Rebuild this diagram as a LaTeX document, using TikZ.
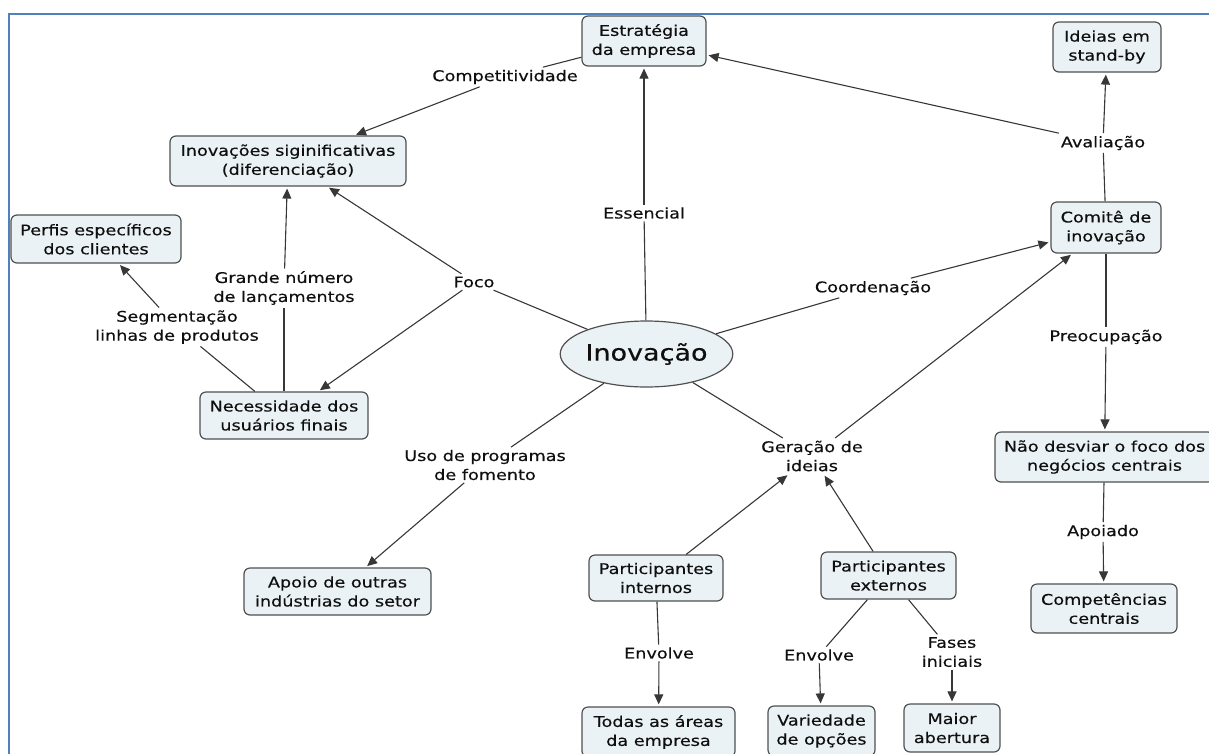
\documentclass[tikz,border=0pt]{standalone}
\usepackage{fontspec}
\setmainfont{DejaVu Sans}[FakeStretch=1.2,FakeBold=0.35]
\usetikzlibrary{arrows.meta,shapes.geometric}
\definecolor{framecol}{RGB}{79,129,189}
\definecolor{boxfill}{RGB}{234,242,246}
\definecolor{boxline}{RGB}{80,80,80}
\definecolor{linkcol}{RGB}{55,55,55}
\definecolor{txt}{RGB}{15,15,15}

\begin{document}
\begin{tikzpicture}[x=1pt,y=-1pt,
  concept/.style={draw=boxline, line width=1.2pt, fill=boxfill, rounded corners=6pt,
    align=center, inner sep=0pt, text=txt, font=\fontsize{14.7}{19}\selectfont},
  lbl/.style={align=center, inner sep=2.5pt, text=txt, font=\fontsize{14.7}{19}\selectfont},
  link/.style={draw=linkcol, line width=1.1pt},
  arr/.style={link, -{Triangle[length=10pt,width=9pt]}, shorten >=2pt},
]
\useasboundingbox (0,0) rectangle (1209,753);
\clip (0,0) rectangle (1209,753);

% frame
\draw[framecol, line width=2pt] (1212,14) -- (8.5,14) -- (8.5,756);

% concepts
\node[ellipse, draw=boxline, fill=boxfill, line width=1.2pt, minimum width=153pt,
  minimum height=66pt, inner sep=0pt, text=txt, font=\fontsize{22.5}{27}\selectfont]
  (core) at (646.5,354) {Inovação};
\node[concept, minimum width=124pt, minimum height=50pt] (estr) at (644,41) {Estratégia\\da empresa};
\node[concept, minimum width=236pt, minimum height=50pt] (inov) at (288,161) {Inovações siginificativas\\(diferenciação)};
\node[concept, minimum width=170pt, minimum height=48pt] (perf) at (96,239) {Perfis específicos\\dos clientes};
\node[concept, minimum width=168pt, minimum height=47pt] (nec) at (284,415.5) {Necessidade dos\\usuários finais};
\node[concept, minimum width=108pt, minimum height=50pt] (ideias) at (1107,47) {Ideias em\\stand-by};
\node[concept, minimum width=110pt, minimum height=51pt] (comite) at (1106,227.5) {Comitê de\\inovação};
\node[concept, minimum width=219pt, minimum height=50pt] (naodesv) at (1104.5,457) {Não desviar o foco dos\\negócios centrais};
\node[concept, minimum width=146pt, minimum height=49pt] (comp) at (1104,608.5) {Competências\\centrais};
\node[concept, minimum width=187pt, minimum height=47pt] (apoio) at (337.5,591.5) {Apoio de outras\\indústrias do setor};
\node[concept, minimum width=134pt, minimum height=46pt] (pint) at (656,578) {Participantes\\internos};
\node[concept, minimum width=135pt, minimum height=47pt] (pext) at (888.5,575.5) {Participantes\\externos};
\node[concept, minimum width=153pt, minimum height=50pt] (todas) at (658.5,732) {Todas as áreas\\da empresa};
\node[concept, minimum width=107pt, minimum height=50pt] (var) at (821.5,731) {Variedade\\de opções};
\node[concept, minimum width=96pt, minimum height=48pt] (maior) at (952,728) {Maior\\abertura};

% linking phrases
\node[lbl] (compet) at (505,77) {Competitividade};
\node[lbl] (ess) at (644,213) {Essencial};
\node[lbl] (aval) at (1103,143) {Avaliação};
\node[lbl] (foco) at (474,282) {Foco};
\node[lbl] (grande) at (284,288) {Grande número\\de lançamentos};
\node[lbl] (segm) at (177,327) {Segmentação\\linhas de produtos};
\node[lbl] (coord) at (873,288) {Coordenação};
\node[lbl] (preoc) at (1106,337) {Preocupação};
\node[lbl] (uso) at (485,465) {Uso de programas\\de fomento};
\node[lbl] (ger) at (812,456) {Geração de\\ideias};
\node[lbl] (apoiado) at (1103,532) {Apoiado};
\node[lbl] (envint) at (659,653) {Envolve};
\node[lbl] (envext) at (819,655) {Envolve};
\node[lbl] (fases) at (952,652) {Fases\\iniciais};

% connectors
\draw[link] (estr) -- (compet);
\draw[arr] (compet) -- (inov);
\draw[link] (core) -- (ess);
\draw[arr] (ess) -- (estr);
\draw[link] (comite) -- (aval);
\draw[arr] (aval) -- (ideias);
\draw[arr] (aval) -- (estr);
\draw[link] (core) -- (foco);
\draw[arr] (foco) -- (inov);
\draw[arr] (foco) -- (nec);
\draw[link] (nec) -- (grande);
\draw[arr] (grande) -- (inov);
\draw[link] (nec) -- (segm);
\draw[arr] (segm) -- (perf);
\draw[link] (core) -- (coord);
\draw[arr] (coord) -- (comite);
\draw[link] (comite) -- (preoc);
\draw[arr] (preoc) -- (naodesv);
\draw[link] (naodesv) -- (apoiado);
\draw[arr] (apoiado) -- (comp);
\draw[link] (core) -- (uso);
\draw[arr] (uso) -- (apoio);
\draw[link] (core) -- (ger);
\draw[arr] (ger) -- (comite);
\draw[arr] (pint) -- (ger);
\draw[arr] (pext) -- (ger);
\draw[link] (pint) -- (envint);
\draw[arr] (envint) -- (todas);
\draw[link] (pext) -- (envext);
\draw[arr] (envext) -- (var);
\draw[link] (pext) -- (fases);
\draw[arr] (fases) -- (maior);
\end{tikzpicture}
\end{document}
